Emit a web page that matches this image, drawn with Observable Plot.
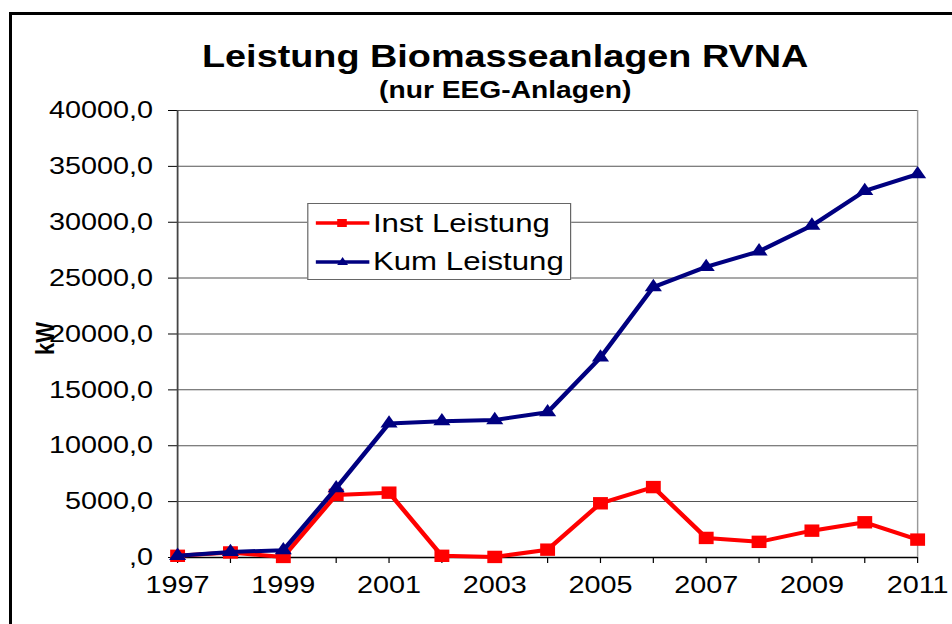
<!DOCTYPE html>
<html>
<head>
<meta charset="utf-8">
<script src="https://cdn.jsdelivr.net/npm/d3@7"></script>
<script src="https://cdn.jsdelivr.net/npm/@observablehq/plot@0.6"></script>
<style>
  html, body { margin: 0; padding: 0; background: #fff; overflow: hidden; }
  #page { position: relative; width: 952px; height: 624px; overflow: hidden; background: #fff; }
  #frame { position: absolute; left: 9px; top: 12px; width: 1000px; height: 700px; border: 3px solid #000; box-sizing: border-box; }
  #stage { position: absolute; left: 0; top: 0; width: 793.33px; height: 624px; transform: scaleX(1.2); transform-origin: 0 0;
           font-family: 'Liberation Sans', Arial, sans-serif; color: #000; }
  .title { position: absolute; left: 0; width: 842px; text-align: center; font-weight: bold; white-space: nowrap; }
  #legend { position: absolute; left: 255.8px; top: 203px; width: 220px; height: 77px; border: 1px solid #666; box-sizing: border-box; background: #fff; }
  .lg-row { position: absolute; left: 0; height: 30px; display: flex; align-items: center; font-size: 26px; white-space: nowrap; }
  .lg-row svg { margin-left: 6px; margin-right: 3px; }
  #ylab { position: absolute; left: 25px; top: 355px; font-weight: bold; font-size: 22px; line-height: 25px; transform: rotate(-90deg); transform-origin: 0 0; white-space: nowrap; }
</style>
</head>
<body>
<div id="page">
  <div id="frame"></div>
  <div id="stage">
    <div id="chart"></div>
  </div>
</div>
<script>
// ---- data ----
const years = [1997, 1998, 1999, 2000, 2001, 2002, 2003, 2004, 2005, 2006, 2007, 2008, 2009, 2010, 2011];
const instLeistung = [150, 450, 50, 5600, 5800, 150, 50, 700, 4850, 6300, 1750, 1400, 2400, 3150, 1600];
const kumLeistung = [150, 500, 650, 6200, 12000, 12200, 12300, 13000, 17900, 24200, 26000, 27400, 29700, 32800, 34300];
const yTicks = [0, 5000, 10000, 15000, 20000, 25000, 30000, 35000, 40000];
const xTickLabels = [1997, 1999, 2001, 2003, 2005, 2007, 2009, 2011];
const seriesNames = ["Inst Leistung", "Kum Leistung"];
const seriesColors = ["#FF0000", "#000080"];
const seriesSymbols = ["square", "triangle"];
const titleText = "Leistung Biomasseanlagen RVNA";
const subtitleText = "(nur EEG-Anlagen)";
const yLabelText = "kW";

// ---- build ----
const inst = years.map((y, i) => ({year: y, value: instLeistung[i]}));
const kum = years.map((y, i) => ({year: y, value: kumLeistung[i]}));
const fmtY = d => d === 0 ? ",0" : d + ",0";

const W0 = 952 / 1.2;
const chart = Plot.plot({
  width: W0,
  height: 624,
  marginLeft: 147.5,
  marginRight: W0 - 764.2,
  marginTop: 110,
  marginBottom: 67,
  style: {fontFamily: "'Liberation Sans', Arial, sans-serif", fontSize: "24px", color: "#000", background: "transparent", overflow: "visible"},
  x: {type: "linear", domain: [1997, 2011]},
  y: {domain: [0, 40000]},
  marks: [
    Plot.gridY(yTicks, {stroke: "#555", strokeOpacity: 1}),
    Plot.ruleX([2011], {stroke: "#999", strokeWidth: 1.2}),
    Plot.axisY(yTicks, {tickSize: 7.5, tickPadding: 13, tickFormat: fmtY, label: null, fontSize: 24}),
    Plot.axisX(years, {tickSize: 6, tickPadding: 12, tickFormat: d => xTickLabels.includes(d) ? String(d) : "", label: null, fontSize: 24}),
    Plot.ruleX([1997], {stroke: "#444", strokeWidth: 1.5}),
    Plot.ruleY([0], {stroke: "#000", strokeWidth: 1.5}),
    Plot.line(inst, {x: "year", y: "value", stroke: seriesColors[0], strokeWidth: 4}),
    Plot.dot(inst, {x: "year", y: "value", symbol: seriesSymbols[0], fill: seriesColors[0], r: 7}),
    Plot.line(kum, {x: "year", y: "value", stroke: seriesColors[1], strokeWidth: 4}),
    Plot.dot(kum, {x: "year", y: "value", symbol: seriesSymbols[1], fill: seriesColors[1], r: 5.3})
  ]
});
document.getElementById("chart").appendChild(chart);

const stage = document.getElementById("stage");
function addText(cls, text, css) {
  const d = document.createElement("div");
  d.className = cls; d.textContent = text;
  Object.assign(d.style, css);
  stage.appendChild(d);
  return d;
}
addText("title", titleText, {fontSize: "31.5px", top: "38px", lineHeight: "36px"});
addText("title", subtitleText, {fontSize: "23.5px", top: "77px", lineHeight: "26px"});
const yl = document.createElement("div");
yl.id = "ylab"; yl.textContent = yLabelText;
stage.appendChild(yl);

// legend
const lg = document.createElement("div");
lg.id = "legend";
seriesNames.forEach((name, i) => {
  const row = document.createElement("div");
  row.className = "lg-row";
  row.style.top = (i === 0 ? 4 : 42.5) + "px";
  const sw = d3.create("svg").attr("width", 45).attr("height", 16);
  sw.append("line").attr("x1", 0).attr("x2", 45).attr("y1", 8).attr("y2", 8)
    .attr("stroke", seriesColors[i]).attr("stroke-width", 3.5);
  if (seriesSymbols[i] === "square") {
    sw.append("rect").attr("x", 18).attr("y", 4).attr("width", 8).attr("height", 8).attr("fill", seriesColors[i]);
  } else {
    sw.append("path").attr("d", "M22.5,3 L27,11 L18,11 Z").attr("fill", seriesColors[i]);
  }
  row.appendChild(sw.node());
  const t = document.createElement("span");
  t.textContent = name;
  row.appendChild(t);
  lg.appendChild(row);
});
stage.appendChild(lg);
</script>
</body>
</html>
